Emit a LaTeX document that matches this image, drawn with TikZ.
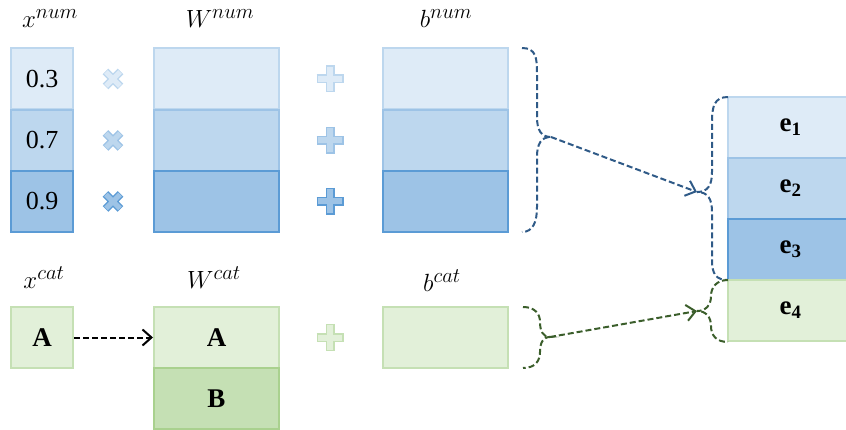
\documentclass[tikz,border=0pt]{standalone}
\usepackage{fontspec}
\setmainfont{Liberation Serif}
\usetikzlibrary{arrows.meta}
\definecolor{blueA}{HTML}{DEEBF7}
\definecolor{blueAb}{HTML}{BDD7EE}
\definecolor{blueB}{HTML}{BDD7EE}
\definecolor{blueBb}{HTML}{9DC3E6}
\definecolor{blueC}{HTML}{9DC3E6}
\definecolor{blueCb}{HTML}{5B9BD5}
\definecolor{greenA}{HTML}{E2F0D9}
\definecolor{greenAb}{HTML}{C5E0B4}
\definecolor{greenB}{HTML}{C5E0B4}
\definecolor{greenBb}{HTML}{A9D18E}
\definecolor{braceblue}{HTML}{2F5A87}
\definecolor{bracegreen}{HTML}{3B5E2B}
\tikzset{
  cell/.style={draw, line width=2pt, inner sep=0pt, minimum height=61pt,
    font=\fontsize{26}{30}\selectfont},
  narrow/.style={minimum width=62pt},
  wide/.style={minimum width=125pt},
  cA/.style={cell, fill=blueA, draw=blueAb},
  cB/.style={cell, fill=blueB, draw=blueBb},
  cC/.style={cell, fill=blueC, draw=blueCb},
  gA/.style={cell, fill=greenA, draw=greenAb},
  gB/.style={cell, fill=greenB, draw=greenBb},
  boldtext/.style={font=\fontsize{27}{30}\selectfont\bfseries},
  lbl/.style={anchor=base, inner sep=0pt, font=\fontsize{30}{34}\selectfont},
  bracepath/.style={line width=2pt, dash pattern=on 6pt off 3pt, line cap=butt},
  bluebrace/.style={bracepath, draw=braceblue},
  greenbrace/.style={bracepath, draw=bracegreen},
  conn/.style={line width=2pt, dash pattern=on 6pt off 3pt,
    -{Straight Barb[length=9pt, width=16pt, line width=2pt]}},
  pics/mulsign/.style 2 args={code={
    \draw[line width=8pt, #2] (-7.5,-7.5) -- (7.5,7.5) (-7.5,7.5) -- (7.5,-7.5);
    \draw[line width=5pt, #1] (-7,-7) -- (7,7) (-7,7) -- (7,-7);
  }},
  pics/addsign/.style 2 args={code={
    \draw[line width=9pt, #2] (-13.5,0) -- (13.5,0) (0,-13.5) -- (0,13.5);
    \draw[line width=6pt, #1] (-12,0) -- (12,0) (0,-12) -- (0,12);
  }}
}
\begin{document}
\begin{tikzpicture}[x=1pt, y=-1pt]
\useasboundingbox (0,0) rectangle (846,430);

% labels
\node[lbl] (lxn) at (50,28) {$x^{num}$};
\node[lbl] (lwn) at (220,28) {$W^{num}$};
\node[lbl] (lbn) at (446,28) {$b^{num}$};
\node[lbl] (lxc) at (44,289) {$x^{cat}$};
\node[lbl] (lwc) at (214,289) {$W^{cat}$};
\node[lbl] (lbc) at (442,292) {$b^{cat}$};

% numeric columns
\node[cA, narrow] (x1) at (42,79) {0.3};
\node[cB, narrow] (x2) at (42,140.5) {0.7};
\node[cC, narrow] (x3) at (42,201.5) {0.9};
\node[cA, wide] (w1) at (216.5,79) {};
\node[cB, wide] (w2) at (216.5,140.5) {};
\node[cC, wide] (w3) at (216.5,201.5) {};
\node[cA, wide] (b1) at (445,79) {};
\node[cB, wide] (b2) at (445,140.5) {};
\node[cC, wide] (b3) at (445,201.5) {};

\pic at (113,79) {mulsign={blueA}{blueAb}};
\pic at (113,140.5) {mulsign={blueB}{blueBb}};
\pic at (113,201.5) {mulsign={blueC}{blueCb}};
\pic at (330,79) {addsign={blueA}{blueAb}};
\pic at (330,140.5) {addsign={blueB}{blueBb}};
\pic at (330,201.5) {addsign={blueC}{blueCb}};

% categorical row
\node[gA, narrow, boldtext] (xc) at (42,337.5) {A};
\node[gA, wide, boldtext] (wcA) at (216.5,337.5) {A};
\node[gB, wide, boldtext] (wcB) at (216.5,398.5) {B};
\node[gA, wide] (bc) at (445,337.5) {};
\pic at (330,337.5) {addsign={greenA}{greenAb}};

\draw[conn, draw=black] (xc.east) -- (wcA.west);

% embedding column
\node[cA, wide, boldtext] (e1) at (790.5,127.5) {e\textsubscript{1}};
\node[cB, wide, boldtext] (e2) at (790.5,188.5) {e\textsubscript{2}};
\node[cC, wide, boldtext] (e3) at (790.5,249.5) {e\textsubscript{3}};
\node[gA, wide, boldtext] (e4) at (790.5,310.5) {e\textsubscript{4}};

% braces
\coordinate (nt) at (522,48);
\coordinate (ntip) at (551,137);
\coordinate (nb) at (522,232);
\draw[bluebrace] (nt) .. controls (536,48) and (537,58) .. (537,73) -- (537,117)
  .. controls (537,130) and (541,137) .. (ntip)
  .. controls (541,137) and (537,144) .. (537,157) -- (537,207)
  .. controls (537,222) and (533,232) .. (nb);

\coordinate (et) at (728,97);
\coordinate (etip) at (697,192);
\coordinate (eb) at (728,280);
\draw[bluebrace] (et) .. controls (714,97) and (712,107) .. (712,122) -- (712,172)
  .. controls (712,185) and (708,192) .. (etip)
  .. controls (708,192) and (712,199) .. (712,212) -- (712,260)
  .. controls (712,274) and (716,280) .. (eb);

\coordinate (ct) at (523,307);
\coordinate (ctip) at (550,337);
\coordinate (cb) at (523,368);
\draw[greenbrace] (ct) .. controls (535,307) and (540,314) .. (540,322)
  .. controls (540,331) and (543,337) .. (ctip)
  .. controls (543,337) and (540,343) .. (540,352)
  .. controls (540,361) and (535,368) .. (cb);

\coordinate (gt) at (728,280);
\coordinate (gtip) at (697,311);
\coordinate (gb) at (728,342);
\draw[greenbrace] (gt) .. controls (716,280) and (711,288) .. (711,296)
  .. controls (711,305) and (706,311) .. (gtip)
  .. controls (706,311) and (711,317) .. (711,326)
  .. controls (711,335) and (716,342) .. (gb);

\draw[conn, draw=braceblue] (ntip) -- (etip);
\draw[conn, draw=bracegreen] (ctip) -- (gtip);
\end{tikzpicture}
\end{document}
